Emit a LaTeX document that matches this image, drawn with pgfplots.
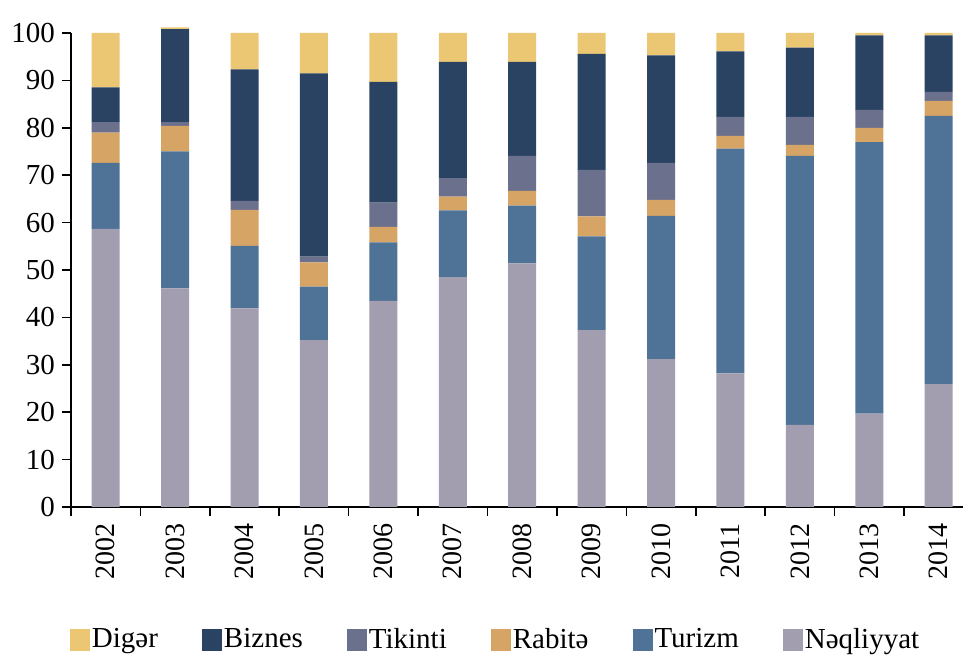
\documentclass[border=0pt]{standalone}
\usepackage{fontspec}
\setmainfont{Liberation Serif}
\usepackage{pgfplots}
\pgfplotsset{compat=1.18}
\usepackage{pgfplotstable}
\definecolor{cDi}{HTML}{EBC673}
\definecolor{cBi}{HTML}{2B4363}
\definecolor{cTi}{HTML}{6B708C}
\definecolor{cRa}{HTML}{D6A465}
\definecolor{cTu}{HTML}{4F7396}
\definecolor{cNq}{HTML}{A29DAF}
\pgfplotstableread{
x nq tu ra ti bi di
0 58.7 13.9 6.4 2.2 7.3 11.5
1 46.1 28.9 5.4 0.8 19.6 0.4
2 41.9 13.2 7.6 1.9 27.7 7.7
3 35.2 11.3 5.1 1.2 38.7 8.5
4 43.5 12.3 3.3 5.1 25.5 10.3
5 48.5 14.1 2.9 3.9 24.5 6.1
6 51.4 12.2 3.1 7.4 19.8 6.1
7 37.3 19.8 4.2 9.8 24.5 4.4
8 31.2 30.2 3.4 7.8 22.7 4.7
9 28.2 47.4 2.7 4.0 13.8 3.9
10 17.3 56.8 2.3 5.9 14.6 3.1
11 19.7 57.3 3.0 3.8 15.7 0.5
12 25.9 56.6 3.2 1.9 11.9 0.5
}\data
\begin{document}
\begin{tikzpicture}
\useasboundingbox (-35.5pt,-77.5pt) rectangle (446pt,253.5pt);
\begin{axis}[
  at={(0,0)}, anchor=south west,
  scale only axis, width=446pt, height=237pt,
  ybar stacked, bar width=14pt,
  xmin=-0.5, xmax=12.35, ymin=0, ymax=100,
  clip=false,
  axis x line*=bottom, axis y line*=left,
  axis line style={line width=0.8pt, black, -},
  xtick={0,...,12},
  xticklabels={2002,2003,2004,2005,2006,2007,2008,2009,2010,2011,2012,2013,2014},
  minor xtick={-0.5,0.5,...,11.5},
  major x tick style={draw=none},
  minor x tick style={line width=0.8pt, black},
  minor tick length=4.5pt,
  ytick={0,10,...,100},
  major y tick style={line width=0.8pt, black},
  major tick length=4.5pt,
  tick align=outside,
  xticklabel style={rotate=90, anchor=east, font=\fontsize{14}{16}\selectfont},
  xticklabel shift=0pt,
  yticklabel style={font=\fontsize{14.5}{16}\selectfont},
  /pgf/number format/assume math mode=true,
  legend columns=6,
  reverse legend,
  legend cell align=left,
  legend style={draw=none, fill=none, at={(axis description cs:0.476,-0.28)}, anchor=center,
    font=\fontsize{14.5}{16}\selectfont,
    nodes={inner xsep=1pt},
    /tikz/every even column/.append style={column sep=21pt}},
  legend image code/.code={\fill[#1] (0pt,-5.5pt) rectangle (10pt,5.5pt);},
  every axis plot/.append style={draw=none},
]
\addplot[fill=cNq] table[x=x,y=nq]{\data};
\addplot[fill=cTu] table[x=x,y=tu]{\data};
\addplot[fill=cRa] table[x=x,y=ra]{\data};
\addplot[fill=cTi] table[x=x,y=ti]{\data};
\addplot[fill=cBi] table[x=x,y=bi]{\data};
\addplot[fill=cDi] table[x=x,y=di]{\data};
\legend{Nəqliyyat,Turizm,Rabitə,Tikinti,Biznes,Digər}
\end{axis}
\end{tikzpicture}
\end{document}
